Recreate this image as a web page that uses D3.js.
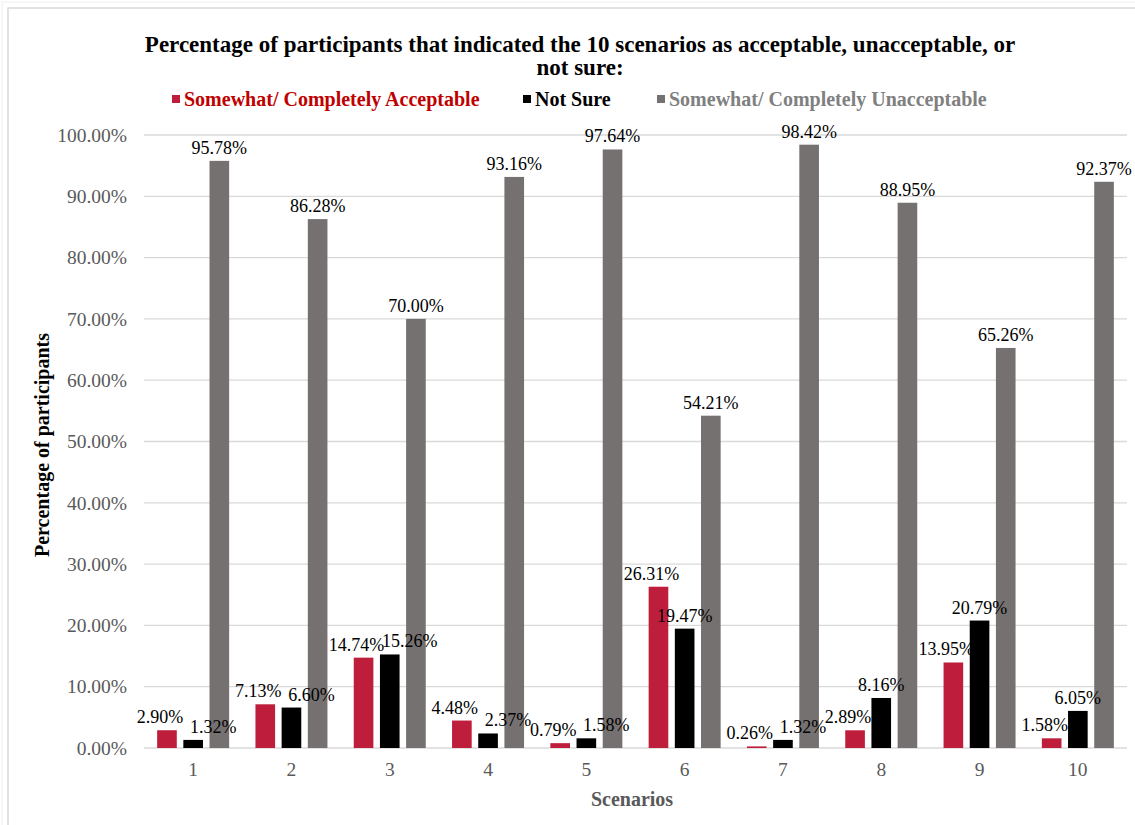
<!DOCTYPE html>
<html>
<head>
<meta charset="utf-8">
<script src="https://cdn.jsdelivr.net/npm/d3@7"></script>
<style>
  body { margin: 0; background: #fff; }
  text { font-family: "Liberation Serif", "Times New Roman", serif; }
</style>
</head>
<body>
<div id="chart"></div>
<script>
// scenario numbers
var scenarios = ["1", "2", "3", "4", "5", "6", "7", "8", "9", "10"];
var seriesNames = ["Somewhat/ Completely Acceptable", "Not Sure", "Somewhat/ Completely Unacceptable"];
var acceptable   = [2.90, 7.13, 14.74, 4.48, 0.79, 26.31, 0.26, 2.89, 13.95, 1.58];
var notSure      = [1.32, 6.60, 15.26, 2.37, 1.58, 19.47, 1.32, 8.16, 20.79, 6.05];
var unacceptable = [95.78, 86.28, 70.00, 93.16, 97.64, 54.21, 98.42, 88.95, 65.26, 92.37];
var yTicks = [0, 10, 20, 30, 40, 50, 60, 70, 80, 90, 100];

var colors = ["#be1e3c", "#000000", "#767171"];
var legendText = ["#c00000", "#000000", "#808080"];

var W = 1135, H = 825;
var svg = d3.select("#chart").append("svg").attr("width", W).attr("height", H);

// chart frame
svg.append("rect").attr("x", 2).attr("y", 2).attr("width", W + 20).attr("height", H + 20)
    .attr("fill", "none").attr("stroke", "#f0f0f0");
svg.append("rect").attr("x", 8).attr("y", 8).attr("width", W + 20).attr("height", H + 20)
    .attr("fill", "none").attr("stroke", "#d9d9d9").attr("stroke-width", 1.5);

var plotL = 144, plotR = 1127, plotT = 135, plotB = 748;

var x = d3.scaleBand().domain(scenarios).range([plotL, plotR]);
var xs = d3.scaleBand().domain([0, 1, 2]).range([0, 72]).paddingInner(0.25);
var y = d3.scaleLinear().domain([0, 100]).range([plotB, plotT]);

// gridlines
svg.append("g").selectAll("line").data(yTicks).enter().append("line")
    .attr("x1", plotL).attr("x2", plotR)
    .attr("y1", function(d){ return y(d); }).attr("y2", function(d){ return y(d); })
    .attr("stroke", "#d9d9d9").attr("stroke-width", 1.3);

// y axis labels
var yAxis = d3.axisLeft(y).tickValues(yTicks).tickSize(0).tickPadding(17)
    .tickFormat(function(d){ return d.toFixed(2) + "%"; });
var ya = svg.append("g").attr("transform", "translate(" + plotL + ",0)").call(yAxis);
ya.select(".domain").remove();
ya.selectAll("text").attr("font-size", 19.5).attr("fill", "#595959")
    .style("font-family", "Liberation Serif");

// x axis labels
var xAxis = d3.axisBottom(x).tickSize(0).tickPadding(14);
var xa = svg.append("g").attr("transform", "translate(0," + plotB + ")").call(xAxis);
xa.select(".domain").remove();
xa.selectAll("text").attr("font-size", 19.5).attr("fill", "#595959")
    .style("font-family", "Liberation Serif");

var series = [acceptable, notSure, unacceptable];

// bars
for (var s = 0; s < series.length; s++) {
    svg.append("g").selectAll("rect").data(series[s]).enter().append("rect")
        .attr("x", function(d, i){ return x(scenarios[i]) + (x.bandwidth() - 72) / 2 + xs(s); })
        .attr("y", function(d){ return y(d); })
        .attr("width", xs.bandwidth())
        .attr("height", function(d){ return plotB - y(d); })
        .attr("fill", colors[s]);
}

// data labels (red and black nudged apart when they collide)
var labels = svg.append("g");
for (var s = 0; s < series.length; s++) {
    series[s].forEach(function(d, i){
        var cx = x(scenarios[i]) + (x.bandwidth() - 72) / 2 + xs(s) + xs.bandwidth() / 2;
        var close = Math.abs(y(acceptable[i]) - y(notSure[i])) < 18;
        var dx = 0;
        if (s === 0) dx = -7;
        if (s === 1 && close) dx = 20;
        labels.append("text")
            .attr("x", cx + dx)
            .attr("y", y(d) - 7)
            .attr("text-anchor", "middle")
            .attr("font-size", 18)
            .attr("fill", "#000")
            .text(d.toFixed(2) + "%");
    });
}

// title
var title = svg.append("text").attr("x", 580).attr("y", 52).attr("text-anchor", "middle")
    .attr("font-size", 23).attr("font-weight", "bold").attr("fill", "#000");
title.append("tspan").attr("x", 580).text("Percentage of participants that indicated the 10 scenarios as acceptable, unacceptable, or");
title.append("tspan").attr("x", 580).attr("dy", 23).text("not sure:");

// legend
var legendX = [172, 523, 657];
var lg = svg.append("g");
seriesNames.forEach(function(n, i){
    lg.append("rect").attr("x", legendX[i]).attr("y", 95).attr("width", 8).attr("height", 8)
        .attr("fill", colors[i]);
    lg.append("text").attr("x", legendX[i] + 12).attr("y", 106)
        .attr("font-size", 20).attr("font-weight", "bold").attr("fill", legendText[i])
        .text(n);
});

// axis titles
svg.append("text").attr("transform", "translate(49,445) rotate(-90)")
    .attr("text-anchor", "middle").attr("font-size", 20).attr("font-weight", "bold")
    .attr("fill", "#000").text("Percentage of participants");
svg.append("text").attr("x", 632).attr("y", 806).attr("text-anchor", "middle")
    .attr("font-size", 20).attr("font-weight", "bold").attr("fill", "#595959")
    .text("Scenarios");
</script>
</body>
</html>
